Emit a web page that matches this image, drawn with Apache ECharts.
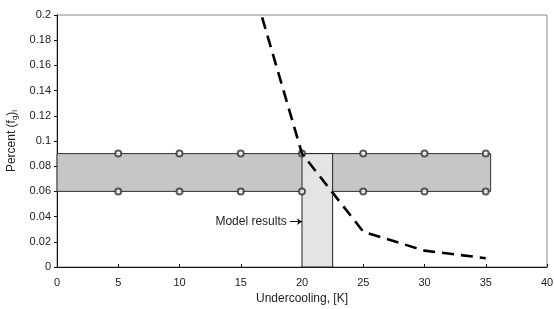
<!DOCTYPE html>
<html>
<head>
<meta charset="utf-8">
<script src="https://cdn.jsdelivr.net/npm/echarts@6/dist/echarts.min.js"></script>
<style>html,body{margin:0;padding:0;background:#fff}#c{width:554px;height:309px}</style>
</head>
<body>
<div id="c"></div>
<script>
// Data
var xTicks = [0, 5, 10, 15, 20, 25, 30, 35, 40];
var yTicks = [0, 0.02, 0.04, 0.06, 0.08, 0.1, 0.12, 0.14, 0.16, 0.18, 0.2];
var circleX = [5, 10, 15, 20, 25, 30, 35];
var bandLow = 0.06;
var bandHigh = 0.09;
var bandX = [0, 35.4];
var modelX = [20, 22.5];
var modelY = [0, 0.09];
var curveX = [15, 20, 25, 30, 35];
var curveY = [0.256, 0.09, 0.028, 0.013, 0.007];
var annotation = {text: 'Model results', x0: 19.0, x1: 20, y: 0.036};

var circles = [];
circleX.forEach(function (x) { circles.push([x, bandLow]); circles.push([x, bandHigh]); });
var curve = curveX.map(function (x, i) { return [x, curveY[i]]; });

var chart = echarts.init(document.getElementById('c'));
var font = 'Liberation Sans, Arial, sans-serif';
chart.setOption({
  animation: false,
  grid: {left: 57, right: 7, top: 15, bottom: 42, show: true, borderColor: '#888', borderWidth: 1,
    outerBoundsMode: 'none', containLabel: false},
  xAxis: {
    type: 'value', min: 0, max: 40, interval: 5,
    axisLine: {lineStyle: {color: '#111', width: 1}},
    axisTick: {inside: true, length: 3, lineStyle: {color: '#111'}},
    axisLabel: {color: '#222', fontFamily: font, fontSize: 11, margin: 10},
    splitLine: {show: false},
    name: 'Undercooling, [K]', nameLocation: 'middle', nameGap: 23,
    nameTextStyle: {color: '#222', fontFamily: font, fontSize: 12}
  },
  yAxis: {
    type: 'value', min: 0, max: 0.2, interval: 0.02,
    axisLine: {lineStyle: {color: '#111', width: 1}},
    axisTick: {length: 3, lineStyle: {color: '#111'}},
    axisLabel: {color: '#222', fontFamily: font, fontSize: 11, margin: 6,
      formatter: function (v) { return String(+v.toFixed(2)); }},
    splitLine: {show: false},
    name: '{a|Percent (f}{s|g}{a|)}{s|l}', nameLocation: 'middle', nameGap: 36,
    nameTextStyle: {
      rich: {
        a: {color: '#222', fontFamily: font, fontSize: 12},
        s: {color: '#222', fontFamily: font, fontSize: 8, verticalAlign: 'bottom', padding: [6, 0, 0, 0]}
      }
    }
  },
  series: [
    {
      type: 'line', data: [], silent: true,
      markArea: {
        silent: true,
        data: [
          [{xAxis: bandX[0], yAxis: bandLow, itemStyle: {color: '#c6c6c6', borderColor: '#333', borderWidth: 1}},
           {xAxis: bandX[1], yAxis: bandHigh}],
          [{xAxis: modelX[0], yAxis: modelY[0], itemStyle: {color: '#e4e4e4', borderColor: '#222', borderWidth: 1}},
           {xAxis: modelX[1], yAxis: modelY[1]}]
        ]
      }
    },
    {
      type: 'scatter', data: circles, symbol: 'emptyCircle', symbolSize: 6,
      itemStyle: {color: '#333', borderColor: '#333', borderWidth: 1}, z: 3
    },
    {
      type: 'line', data: curve, showSymbol: false, symbol: 'none', z: 4,
      lineStyle: {color: '#000', width: 2.6, type: [12, 7]},
      markLine: {
        silent: true, symbol: ['none', 'arrow'], symbolSize: 5,
        lineStyle: {color: '#111', width: 1, type: 'solid'},
        label: {show: true, position: 'start', formatter: annotation.text, color: '#222', fontFamily: font, fontSize: 12, distance: 3},
        data: [[{coord: [annotation.x0, annotation.y]}, {coord: [annotation.x1, annotation.y]}]]
      }
    }
  ]
});
</script>
</body>
</html>
